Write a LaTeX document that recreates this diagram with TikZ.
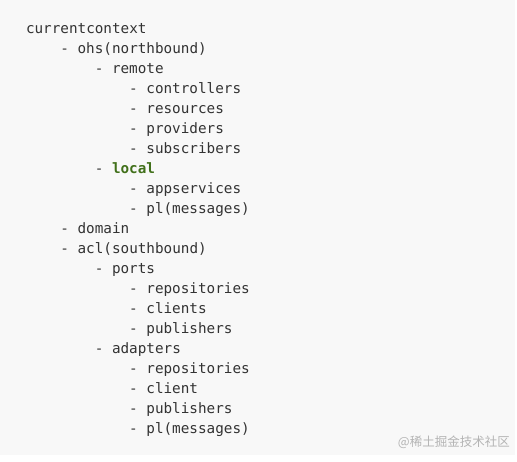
\documentclass[tikz,border=0pt]{standalone}
\usepackage{fontspec}
\setmonofont{DejaVu Sans Mono}
\newfontfamily\cjk{Noto Sans CJK SC}
\definecolor{bgc}{HTML}{F8F8F8}
\definecolor{txt}{HTML}{333333}
\definecolor{grn}{HTML}{41701A}
\definecolor{wm}{HTML}{B4B4B4}
\begin{document}
\begin{tikzpicture}[x=1pt,y=-1pt,
  ln/.style={anchor=base west,inner sep=0pt,outer sep=0pt,text=txt,font=\ttfamily\fontsize{14.3}{16}\selectfont}]
\useasboundingbox (0,0) rectangle (517,461);
\fill[white] (0,0) rectangle (517,461);
\fill[bgc] (0,0) rectangle (515,455);
\def\cw{8.6}
\node[ln] (l0) at (26,33) {currentcontext};
\node[ln] (l1) at (26+4*\cw,53) {- ohs(northbound)};
\node[ln] (l2) at (26+8*\cw,73) {- remote};
\node[ln] (l3) at (26+12*\cw,93) {- controllers};
\node[ln] (l4) at (26+12*\cw,113) {- resources};
\node[ln] (l5) at (26+12*\cw,133) {- providers};
\node[ln] (l6) at (26+12*\cw,153) {- subscribers};
\node[ln] (l7) at (26+8*\cw,173) {- \textcolor{grn}{\bfseries local}};
\node[ln] (l8) at (26+12*\cw,193) {- appservices};
\node[ln] (l9) at (26+12*\cw,213) {- pl(messages)};
\node[ln] (l10) at (26+4*\cw,233) {- domain};
\node[ln] (l11) at (26+4*\cw,253) {- acl(southbound)};
\node[ln] (l12) at (26+8*\cw,273) {- ports};
\node[ln] (l13) at (26+12*\cw,293) {- repositories};
\node[ln] (l14) at (26+12*\cw,313) {- clients};
\node[ln] (l15) at (26+12*\cw,333) {- publishers};
\node[ln] (l16) at (26+8*\cw,353) {- adapters};
\node[ln] (l17) at (26+12*\cw,373) {- repositories};
\node[ln] (l18) at (26+12*\cw,393) {- client};
\node[ln] (l19) at (26+12*\cw,413) {- publishers};
\node[ln] (l20) at (26+12*\cw,433) {- pl(messages)};
\node[anchor=base east,inner sep=0pt,text=wm,font=\cjk\fontsize{12.5}{14}\selectfont] (wm) at (510,446) {@稀土掘金技术社区};
\end{tikzpicture}
\end{document}
